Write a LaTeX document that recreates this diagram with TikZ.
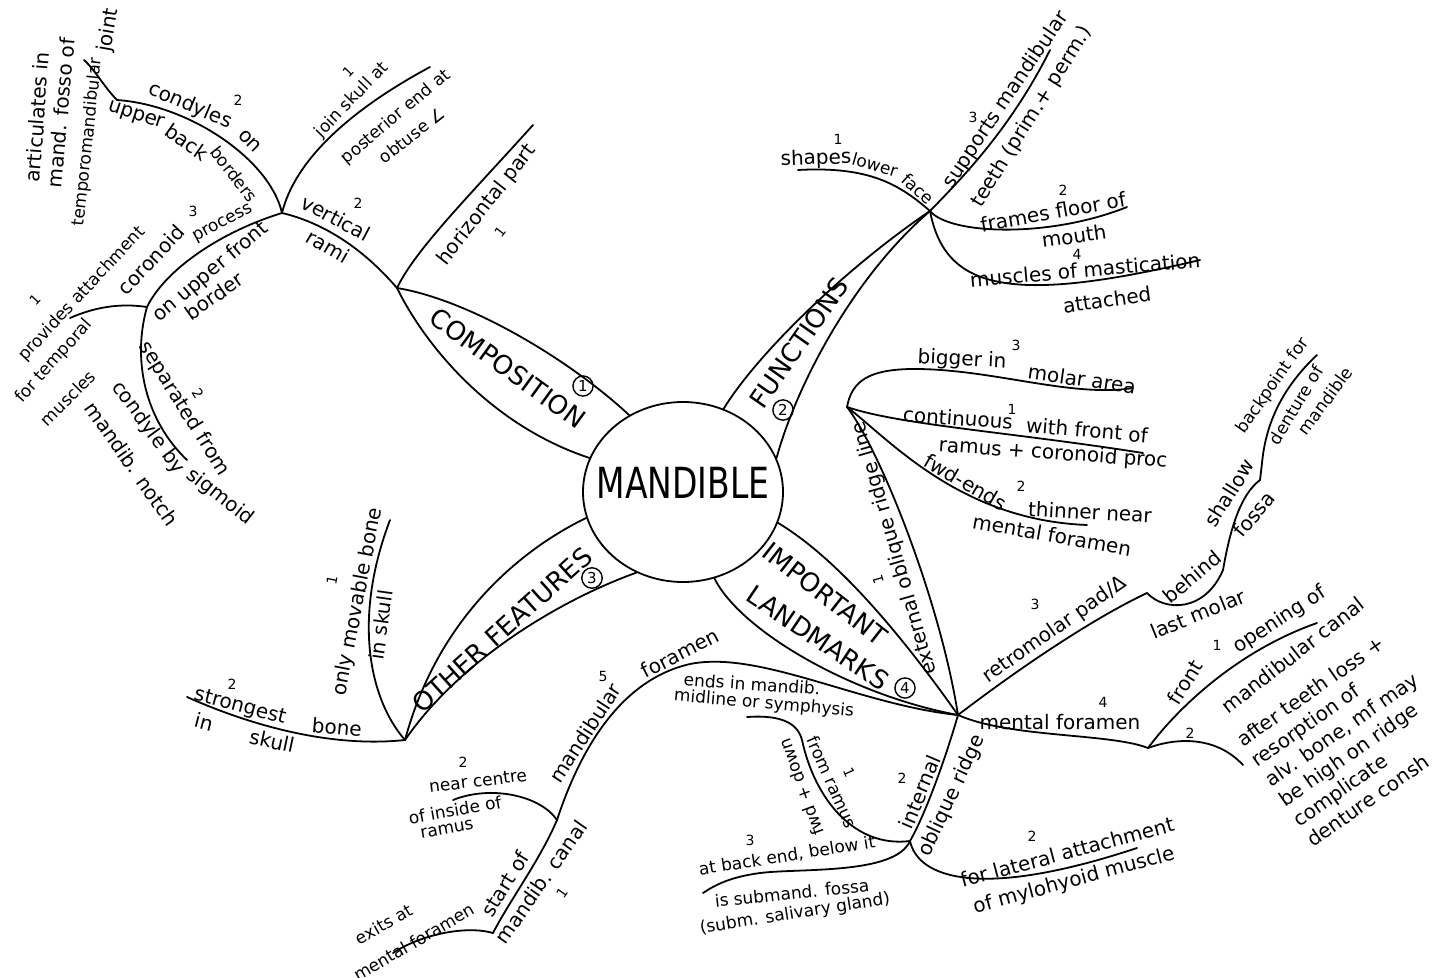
\documentclass[tikz,border=0pt]{standalone}
\usepackage{fontspec}
\setmainfont{DejaVu Sans}
\usetikzlibrary{shapes.geometric}

\tikzset{
  branch/.style={line width=1.8pt, line cap=round, line join=round},
  lbl/.style={font=\fontsize{20}{23}\selectfont, inner sep=0pt},
  small/.style={font=\fontsize{17}{19}\selectfont, inner sep=0pt},
  num/.style={font=\fontsize{14}{14}\selectfont, inner sep=0pt},
  topic/.style={font=\fontsize{26}{28}\selectfont, inner sep=0pt},
  cnum/.style={circle, draw, line width=1.4pt, inner sep=2pt, font=\fontsize{15}{15}\selectfont}
}

\begin{document}
\begin{tikzpicture}[x=1pt,y=-1pt]
\useasboundingbox (0,0) rectangle (1439,977);

% Centre
\node[ellipse, draw, line width=1.8pt, minimum width=200pt, minimum height=180pt] (mandible) at (683,492) {};
\node[font=\fontsize{33}{33}\selectfont, yscale=1.3] (t-mandible) at (683,483) {MANDIBLE};

% Main branches (leaves)
\coordinate (comp) at (397,288);
\coordinate (func) at (930,211);
\coordinate (other) at (405,740);
\coordinate (land) at (958,715);
\draw[branch] (comp) .. controls (470,300) and (570,360) .. (mandible.125);
\draw[branch] (comp) .. controls (425,345) and (490,425) .. (mandible.160);
\draw[branch] (mandible.64) .. controls (760,350) and (850,265) .. (func);
\draw[branch] (mandible.20) .. controls (795,390) and (850,280) .. (func);
\draw[branch] (mandible.195) .. controls (530,545) and (440,610) .. (other);
\draw[branch] (mandible.240) .. controls (560,600) and (460,660) .. (other);
\draw[branch] (mandible.342) .. controls (840,560) and (905,640) .. (land);
\draw[branch] (mandible.290) .. controls (740,630) and (850,695) .. (land);
\node[topic, rotate=-36] (t-comp) at (508,368) {COMPOSITION};
\node[cnum] (n-comp) at (583,386) {1};
\node[topic, rotate=55] (t-func) at (799,343) {FUNCTIONS};
\node[cnum] (n-func) at (783,410) {2};
\node[topic, rotate=42] (t-other) at (502,630) {OTHER FEATURES};
\node[cnum] (n-other) at (592,578) {3};
\node[topic, rotate=-38] (t-imp) at (825,594) {IMPORTANT};
\node[topic, rotate=-34] (t-lmk) at (818,638) {LANDMARKS};
\node[cnum] (n-land) at (905,688) {4};

% Composition
\coordinate (horiz) at (533,125);
\coordinate (rami) at (282,213);
\coordinate (skull) at (430,67);
\coordinate (condyle) at (117,100);
\coordinate (artic) at (84,60);
\coordinate (corproc) at (147,307);
\coordinate (notch) at (187,460);
\coordinate (temporal) at (70,318);
\draw[branch] (comp) .. controls (415,250) and (470,195) .. (horiz);
\draw[branch] (comp) .. controls (360,245) and (320,222) .. (rami);
\draw[branch] (rami) .. controls (295,160) and (350,110) .. (skull);
\draw[branch] (rami) .. controls (270,160) and (190,105) .. (condyle);
\draw[branch] (condyle) .. controls (105,88) and (95,70) .. (artic);
\draw[branch] (rami) .. controls (220,232) and (165,270) .. (corproc);
\draw[branch] (corproc) .. controls (132,360) and (145,420) .. (notch);
\draw[branch] (corproc) .. controls (120,303) and (95,307) .. (temporal);
\node[lbl, rotate=52] (t-horiz) at (487,205) {horizontal part};
\node[num, rotate=52] (n-horiz) at (500,232) {1};
\node[lbl, rotate=-28] (t-vert) at (336,218) {vertical};
\node[num] (n-vert) at (358,203) {2};
\node[lbl, rotate=-30] (t-rami) at (328,246) {rami};
\node[small, rotate=46] (t-join) at (352,100) {join skull at};
\node[num, rotate=46] (n-join) at (348,72) {1};
\node[small, rotate=40] (t-post) at (396,117) {posterior end at};
\node[small, rotate=38] (t-obt) at (412,135) {obtuse ∠};
\node[lbl, rotate=-23] (t-cond) at (190,106) {condyles};
\node[num] (n-cond) at (238,100) {2};
\node[lbl, rotate=-45] (t-on) at (250,141) {on};
\node[lbl, rotate=-18] (t-upper) at (136,116) {upper};
\node[lbl, rotate=-35] (t-back) at (187,142) {back};
\node[small, rotate=-52] (t-bord) at (234,174) {borders};
\node[lbl, rotate=86] (t-artic) at (37,117) {articulates in};
\node[lbl, rotate=85] (t-fosso) at (61,113) {mand. fosso of};
\node[small, rotate=84] (t-tmj) at (88,142) {temporomandibular};
\node[lbl, rotate=80] (t-joint) at (109,30) {joint};
\node[lbl, rotate=47] (t-cor) at (151,260) {coronoid};
\node[small, rotate=28] (t-proc) at (223,224) {process};
\node[num] (n-cor) at (193,211) {3};
\node[lbl, rotate=40] (t-onup) at (211,272) {on upper front};
\node[lbl, rotate=35] (t-border) at (214,296) {border};
\node[small, rotate=47] (t-prov) at (82,294) {provides attachment};
\node[num, rotate=47] (n-prov) at (35,300) {1};
\node[small, rotate=48] (t-temp) at (54,361) {for temporal};
\node[small, rotate=45] (t-musc) at (68,398) {muscles};
\node[lbl, rotate=-58] (t-sep) at (184,409) {separated from};
\node[num, rotate=-58] (n-sep) at (198,394) {2};
\node[lbl, rotate=-38] (t-sig) at (220,497) {sigmoid};
\node[lbl, rotate=-54] (t-condy) at (148,428) {condyle by};
\node[lbl, rotate=-55] (t-notch) at (132,464) {mandib. notch};

% Functions
\coordinate (face) at (798,170);
\coordinate (teeth) at (1050,50);
\coordinate (floor) at (1127,207);
\coordinate (mastic) at (1200,260);
\draw[branch] (func) .. controls (900,185) and (870,166) .. (face);
\draw[branch] (func) .. controls (960,180) and (1010,130) .. (teeth);
\draw[branch] (func) .. controls (950,235) and (1050,238) .. (floor);
\draw[branch] (func) .. controls (945,290) and (1010,305) .. (mastic);
\node[lbl, rotate=2] (t-shapes) at (816,159) {shapes};
\node[num] (n-shapes) at (838,139) {1};
\node[small, rotate=-16] (t-lower) at (875,165) {lower};
\node[small, rotate=-42] (t-face) at (918,189) {face};
\node[lbl, rotate=56] (t-supp) at (1006,100) {supports mandibular};
\node[num] (n-supp) at (973,117) {3};
\node[lbl, rotate=58] (t-teeth) at (1032,117) {teeth (prim.+ perm.)};
\node[lbl, rotate=10] (t-frames) at (1053,212) {frames floor of};
\node[num] (n-frames) at (1063,190) {2};
\node[lbl, rotate=8] (t-mouth) at (1074,236) {mouth};
\node[lbl, rotate=5] (t-mastic) at (1085,270) {muscles of mastication};
\node[num] (n-mastic) at (1077,254) {4};
\node[lbl, rotate=8] (t-att) at (1107,300) {attached};

% Important landmarks
\coordinate (ridge) at (847,407);
\coordinate (molar) at (1133,388);
\coordinate (proc) at (1143,453);
\coordinate (thin) at (1087,525);
\coordinate (retro) at (1147,593);
\coordinate (denture) at (1317,355);
\coordinate (mentalf) at (1148,748);
\coordinate (canalend) at (1317,623);
\coordinate (highend) at (1243,765);
\coordinate (intobl) at (910,841);
\coordinate (mylo) at (1137,848);
\coordinate (symph) at (747,717);
\coordinate (fossa) at (703,893);
\coordinate (mandfor) at (557,820);
\coordinate (canal) at (493,933);
\coordinate (ramus) at (453,800);
\coordinate (exits) at (393,953);
\draw[branch] (ridge) .. controls (880,450) and (940,600) .. (land);
\draw[branch] (ridge) .. controls (852,380) and (870,370) .. (910,369)
  .. controls (990,368) and (1070,398) .. (molar);
\draw[branch] (ridge) .. controls (900,425) and (1010,432) .. (proc);
\draw[branch] (ridge) .. controls (890,440) and (960,520) .. (thin);
\draw[branch] (land) .. controls (1030,660) and (1100,615) .. (retro);
\draw[branch] (retro) .. controls (1165,612) and (1205,612) .. (1223,570)
  .. controls (1230,530) and (1240,495) .. (1260,480) -- (1262,463)
  .. controls (1266,420) and (1285,385) .. (denture);
\draw[branch] (land) .. controls (1010,738) and (1110,733) .. (mentalf);
\draw[branch] (mentalf) .. controls (1180,705) and (1240,650) .. (canalend);
\draw[branch] (mentalf) .. controls (1175,738) and (1215,735) .. (highend);
\draw[branch] (land) .. controls (945,760) and (925,815) .. (intobl);
\draw[branch] (intobl) .. controls (918,878) and (980,900) .. (mylo);
\draw[branch] (intobl) .. controls (855,848) and (815,800) .. (802,740)
  .. controls (797,720) and (775,715) .. (symph);
\draw[branch] (intobl) .. controls (895,875) and (800,868) .. (760,873)
  .. controls (730,877) and (715,885) .. (fossa);
\draw[branch] (land) .. controls (860,705) and (760,650) .. (690,664)
  .. controls (620,680) and (580,750) .. (mandfor);
\draw[branch] (mandfor) .. controls (540,860) and (510,900) .. (canal);
\draw[branch] (mandfor) .. controls (540,795) and (490,785) .. (ramus);
\draw[branch] (canal) .. controls (465,925) and (420,935) .. (exits);
\node[lbl, rotate=106] (t-ext) at (895,548) {external oblique ridge line};
\node[num, rotate=106] (n-ext) at (878,580) {1};
\node[lbl, rotate=-3] (t-big) at (962,360) {bigger in};
\node[num] (n-big) at (1016,345) {3};
\node[lbl, rotate=-8] (t-molar) at (1082,379) {molar area};
\node[lbl, rotate=-4] (t-cont) at (958,418) {continuous};
\node[num] (n-cont) at (1012,409) {1};
\node[lbl, rotate=-5] (t-with) at (1087,430) {with front of};
\node[lbl, rotate=-4] (t-ramus) at (1053,454) {ramus + coronoid proc};
\node[lbl, rotate=-30] (t-fwd) at (966,482) {fwd-ends};
\node[num] (n-fwd) at (1021,486) {2};
\node[lbl, rotate=-3] (t-thin) at (1090,512) {thinner near};
\node[lbl, rotate=-10] (t-ment) at (1052,535) {mental foramen};
\node[lbl, rotate=35] (t-retro) at (1055,630) {retromolar pad/Δ};
\node[num] (n-retro) at (1035,604) {3};
\node[lbl, rotate=40] (t-behind) at (1192,577) {behind};
\node[lbl, rotate=22] (t-last) at (1198,614) {last molar};
\node[lbl, rotate=58] (t-shallow) at (1229,493) {shallow};
\node[lbl, rotate=50] (t-fossa) at (1254,514) {fossa};
\node[small, rotate=55] (t-backp) at (1273,386) {backpoint for};
\node[small, rotate=59] (t-dent) at (1296,405) {denture of};
\node[small, rotate=54] (t-mandible2) at (1325,401) {mandible};
\node[lbl] (t-mentf) at (1060,722) {mental foramen};
\node[num] (n-mentf) at (1103,702) {4};
\node[lbl, rotate=58] (t-front) at (1185,682) {front};
\node[num] (n-front) at (1217,645) {1};
\node[lbl, rotate=33] (t-open) at (1280,620) {opening of};
\node[lbl, rotate=38] (t-canal) at (1293,655) {mandibular canal};
\node[num] (n-high) at (1190,733) {2};
\node[lbl, font=\fontsize{20}{24.5}\selectfont, rotate=35, anchor=north west, align=left] (t-after) at (1234,735)
  {after teeth loss +\\resorption of\\alv. bone, mf may\\be high on ridge\\complicate\\denture consh};
\node[lbl, rotate=67] (t-int) at (920,792) {internal};
\node[num] (n-int) at (902,778) {2};
\node[lbl, rotate=65] (t-obl) at (952,796) {oblique ridge};
\node[lbl, rotate=15] (t-lat) at (1067,852) {for lateral attachment};
\node[num] (n-lat) at (1032,836) {2};
\node[lbl, rotate=15] (t-mylo) at (1074,881) {of mylohyoid muscle};
\node[small, rotate=-66] (t-from) at (832,782) {from ramus};
\node[num, rotate=-66] (n-from) at (849,772) {1};
\node[small, rotate=110] (t-fwd2) at (801,787) {fwd + down};
\node[small, rotate=-4] (t-ends) at (752,684) {ends in mandib.};
\node[small, rotate=-5] (t-midl) at (764,704) {midline or symphysis};
\node[small, rotate=9] (t-backend) at (787,856) {at back end, below it};
\node[num] (n-backend) at (750,840) {3};
\node[small, rotate=6] (t-subm) at (792,893) {is submand. fossa};
\node[small, rotate=9] (t-saliv) at (795,914) {(subm. salivary gland)};
\node[lbl, rotate=57] (t-mandfor) at (585,733) {mandibular};
\node[num] (n-mandfor) at (603,676) {5};
\node[lbl, rotate=27] (t-foramen) at (680,653) {foramen};
\node[small, rotate=7] (t-near) at (478,781) {near centre};
\node[num] (n-near) at (463,762) {2};
\node[small, rotate=10] (t-inside) at (455,810) {of inside of};
\node[small, rotate=10] (t-ramus2) at (447,829) {ramus};
\node[lbl, rotate=58] (t-start) at (505,884) {start of};
\node[lbl, rotate=55] (t-mcanal) at (541,882) {mandib. canal};
\node[num, rotate=55] (n-mcanal) at (562,893) {1};
\node[small, rotate=30] (t-exits) at (384,924) {exits at};
\node[small, rotate=30] (t-mental2) at (414,942) {mental foramen};

% Other features
\coordinate (movable) at (390,520);
\coordinate (strong) at (187,697);
\draw[branch] (other) .. controls (370,700) and (352,620) .. (movable);
\draw[branch] (other) .. controls (330,748) and (250,725) .. (strong);
\node[lbl, rotate=79] (t-only) at (358,602) {only movable bone};
\node[num, rotate=79] (n-only) at (332,580) {1};
\node[lbl, rotate=82] (t-inskull) at (381,625) {in skull};
\node[lbl, rotate=-15] (t-strong) at (240,707) {strongest};
\node[num] (n-strong) at (232,684) {2};
\node[lbl, rotate=-5] (t-bone) at (337,727) {bone};
\node[lbl, rotate=-15] (t-in) at (204,722) {in};
\node[lbl, rotate=-12] (t-skull2) at (272,741) {skull};

\end{tikzpicture}
\end{document}
